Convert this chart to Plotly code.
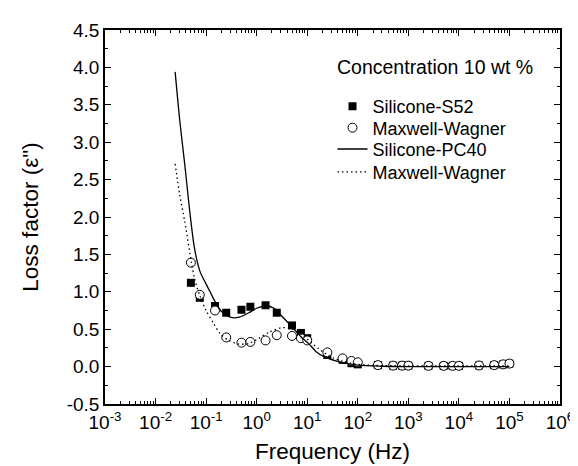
import plotly.graph_objects as go

# Measured points (frequency in Hz)
freq_pts = [0.05, 0.075, 0.15, 0.25, 0.5, 0.75, 1.5, 2.5, 5, 7.5, 10, 25, 50, 75, 100,
            250, 500, 750, 1000, 2500, 5000, 7500, 10000, 25000, 50000, 75000, 100000]
s52_vals = [1.12, 0.92, 0.81, 0.72, 0.76, 0.80, 0.82, 0.72, 0.55, 0.45, 0.38, 0.155, 0.09, 0.045, 0.03,
            0.02, 0.013, 0.013, 0.013, 0.01, 0.01, 0.01, 0.01, 0.015, 0.02, 0.03, 0.04]
mw_pts_vals = [1.39, 0.96, 0.75, 0.39, 0.32, 0.33, 0.35, 0.42, 0.41, 0.38, 0.35, 0.19, 0.11, 0.075, 0.057,
               0.02, 0.013, 0.013, 0.013, 0.01, 0.01, 0.01, 0.01, 0.015, 0.02, 0.03, 0.04]

# Curves
pc40_freq = [0.0244, 0.03, 0.038, 0.047, 0.059, 0.075, 0.092, 0.12, 0.15, 0.2, 0.3, 0.45, 0.7, 1.0,
             1.5, 2.2, 3.2, 5, 7.5, 10.6, 15, 22, 46, 100, 300, 1000, 10000, 100000]
pc40_vals = [3.94, 3.3, 2.69, 2.1, 1.58, 1.28, 1.15, 1.0, 0.87, 0.74, 0.66, 0.66, 0.72, 0.78,
             0.81, 0.78, 0.67, 0.53, 0.40, 0.31, 0.2, 0.13, 0.06, 0.02, 0.005, 0.0, 0.0, 0.0]
mw_curve_freq = [0.0244, 0.03, 0.038, 0.051, 0.059, 0.075, 0.1, 0.14, 0.19, 0.28, 0.45, 0.7, 1.0,
                 1.77, 3.2, 5, 8.4, 16.6, 34, 72, 150, 1000, 100000]
mw_curve_vals = [2.71, 2.3, 1.93, 1.40, 1.18, 0.95, 0.75, 0.58, 0.44, 0.35, 0.30, 0.31, 0.36,
                 0.46, 0.52, 0.50, 0.41, 0.24, 0.11, 0.045, 0.02, 0.01, 0.01]

x_tickvals = [1e-3, 1e-2, 1e-1, 1e0, 1e1, 1e2, 1e3, 1e4, 1e5, 1e6]
x_ticktext = ["10<sup>-3</sup>", "10<sup>-2</sup>", "10<sup>-1</sup>", "10<sup>0</sup>", "10<sup>1</sup>",
              "10<sup>2</sup>", "10<sup>3</sup>", "10<sup>4</sup>", "10<sup>5</sup>", "10<sup>6</sup>"]
y_tickvals = [-0.5, 0.0, 0.5, 1.0, 1.5, 2.0, 2.5, 3.0, 3.5, 4.0, 4.5]
y_ticktext = ["-0.5", "0.0", "0.5", "1.0", "1.5", "2.0", "2.5", "3.0", "3.5", "4.0", "4.5"]

FONT = "Liberation Sans, Arial, sans-serif"

fig = go.Figure()
fig.add_trace(go.Scatter(x=freq_pts, y=s52_vals, mode="markers", name="Silicone-S52", legend="legend",
                         marker=dict(symbol="square", size=8, color="black")))
fig.add_trace(go.Scatter(x=freq_pts, y=mw_pts_vals, mode="markers", name="Maxwell-Wagner", legend="legend2",
                         marker=dict(symbol="circle", size=9, color="white", line=dict(width=1, color="black"))))
fig.add_trace(go.Scatter(x=pc40_freq, y=pc40_vals, mode="lines", name="Silicone-PC40", legend="legend3",
                         line=dict(color="black", width=1.3, shape="spline", smoothing=0.8)))
fig.add_trace(go.Scatter(x=mw_curve_freq, y=mw_curve_vals, mode="lines", name="Maxwell-Wagner", legend="legend4",
                         line=dict(color="black", width=1.3, dash="1.5px,3px", shape="spline", smoothing=0.8)))

def leg(y):
    return dict(x=0.5, y=y, xanchor="left", yanchor="middle", bgcolor="rgba(0,0,0,0)",
                font=dict(size=18), itemwidth=30)

fig.update_layout(
    width=578, height=466,
    margin=dict(l=97, r=13, t=20, b=70),
    paper_bgcolor="white", plot_bgcolor="white",
    font=dict(family=FONT, size=19, color="black"),
    showlegend=True,
    legend=leg(0.795), legend2=leg(0.738), legend3=leg(0.681), legend4=leg(0.620),
    annotations=[dict(text="Concentration 10 wt %", x=0.945, y=0.9, xref="paper", yref="paper",
                      xanchor="right", yanchor="middle", showarrow=False, font=dict(size=19.5))],
)
fig.update_xaxes(type="log", range=[-3, 6], tickmode="array", tickvals=x_tickvals, ticktext=x_ticktext,
                 ticks="inside", ticklen=6, tickwidth=1.2, tickcolor="black", mirror="allticks",
                 showline=True, linecolor="black", linewidth=1.5, showgrid=False, zeroline=False,
                 ticklabeloverflow="allow",
                 minor=dict(ticks="inside", ticklen=3, tickcolor="black", dtick="D1", showgrid=False),
                 title=dict(text="Frequency (Hz)", font=dict(size=22.5), standoff=12),
                 tickfont=dict(size=19))
fig.update_yaxes(range=[-0.5, 4.5], tickmode="array", tickvals=y_tickvals, ticktext=y_ticktext,
                 ticks="inside", ticklen=6, tickwidth=1.2, tickcolor="black", mirror="allticks",
                 showline=True, linecolor="black", linewidth=1.5, showgrid=False, zeroline=False,
                 minor=dict(ticks="inside", ticklen=3, tickcolor="black", dtick=0.25, showgrid=False),
                 title=dict(text="Loss factor (ε\")", font=dict(size=22.5), standoff=22),
                 tickfont=dict(size=19))

fig.write_html("out.html")
